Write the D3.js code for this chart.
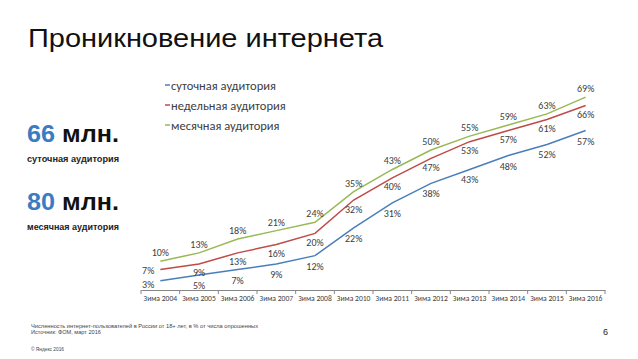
<!DOCTYPE html>
<html>
<head>
<meta charset="utf-8">
<script src="https://cdn.jsdelivr.net/npm/d3@7"></script>
<style>
  body { margin: 0; background: #fff; }
  svg { display: block; }
</style>
</head>
<body>
<svg id="chart"></svg>
<script>
const categories = ["Зима 2004", "Зима 2005", "Зима 2006", "Зима 2007", "Зима 2008", "Зима 2010",
                    "Зима 2011", "Зима 2012", "Зима 2013", "Зима 2014", "Зима 2015", "Зима 2016"];
const daily   = [3, 5, 7, 9, 12, 22, 31, 38, 43, 48, 52, 57];
const weekly  = [7, 9, 13, 16, 20, 32, 40, 47, 53, 57, 61, 66];
const monthly = [10, 13, 18, 21, 24, 35, 43, 50, 55, 59, 63, 69];
const seriesNames = ["суточная аудитория", "недельная аудитория", "месячная аудитория"];

const width = 638, height = 359;
const svg = d3.select("#chart").attr("width", width).attr("height", height);

const labelFont = "Carlito, Calibri, 'Noto Sans', sans-serif";
const arial = "'Liberation Sans', Arial, sans-serif";

// title
svg.append("text")
    .attr("x", 28).attr("y", 47)
    .attr("font-family", arial)
    .attr("font-size", 26)
    .attr("textLength", 355)
    .attr("lengthAdjust", "spacingAndGlyphs")
    .attr("fill", "#111")
    .text("Проникновение интернета");

// left block
function bigNumber(y, num, caption, capY) {
    const t = svg.append("text")
        .attr("x", 27).attr("y", y)
        .attr("font-family", arial)
        .attr("font-weight", "bold")
        .attr("font-size", 24)
        .attr("textLength", 92)
        .attr("lengthAdjust", "spacingAndGlyphs");
    t.append("tspan").attr("fill", "#3b7bc4").text(num);
    t.append("tspan").attr("fill", "#111").text(" млн.");
    svg.append("text")
        .attr("x", 27).attr("y", capY)
        .attr("font-family", arial)
        .attr("font-weight", "bold")
        .attr("font-size", 9)
        .attr("textLength", 92)
        .attr("lengthAdjust", "spacingAndGlyphs")
        .attr("fill", "#222")
        .text(caption);
}
bigNumber(142, "66", "суточная аудитория", 162);
bigNumber(210, "80", "месячная аудитория", 230);

// scales
const x = d3.scaleBand().domain(categories).range([141, 605]).padding(0);
const y = d3.scaleLinear().domain([0, 80]).range([289, 66.6]);
const cx = c => x(c) + x.bandwidth() / 2;

// x axis
const axisY = 290;
const axis = svg.append("g")
    .attr("transform", `translate(0,${axisY})`)
    .call(d3.axisBottom(x).tickSize(0).tickPadding(6));
axis.select(".domain").attr("stroke", "#868686");
axis.selectAll("text")
    .attr("font-family", labelFont)
    .attr("font-size", 7.6)
    .attr("fill", "#404040");
axis.selectAll(".tick-mark")
    .data(categories.map(c => x(c)).concat([x.range()[1]]))
    .enter().append("line")
    .attr("x1", d => d).attr("x2", d => d)
    .attr("y1", 0).attr("y2", 4)
    .attr("stroke", "#868686");

// lines
const series = [
    { name: seriesNames[0], values: daily,   color: "#4a7ebb", pos: "below", off: 14 },
    { name: seriesNames[1], values: weekly,  color: "#be4b48", pos: "below", off: 12.5 },
    { name: seriesNames[2], values: monthly, color: "#98b954", pos: "above", off: -5 }
];

const line = d3.line()
    .x((d, i) => cx(categories[i]))
    .y(d => y(d));

svg.append("g").selectAll("path")
    .data(series)
    .enter().append("path")
    .attr("d", s => line(s.values))
    .attr("fill", "none")
    .attr("stroke", s => s.color)
    .attr("stroke-width", 1.5);

// data labels
series.forEach(s => {
    const first = (i) => i === 0 && s.pos === "below";
    svg.append("g").selectAll("text")
        .data(s.values)
        .enter().append("text")
        .attr("x", (d, i) => first(i) ? cx(categories[i]) - 6 : cx(categories[i]))
        .attr("y", (d, i) => first(i) ? y(d) + (s === series[0] ? 7 : 4) : y(d) + s.off)
        .attr("text-anchor", (d, i) => first(i) ? "end" : "middle")
        .attr("font-family", labelFont)
        .attr("font-size", 10)
        .attr("fill", "#404040")
        .text(d => d + "%");
});

// legend
const legend = svg.append("g").selectAll("g")
    .data(series)
    .enter().append("g")
    .attr("transform", (d, i) => `translate(165,${85 + i * 20})`);
legend.append("line")
    .attr("x1", 0).attr("x2", 5)
    .attr("stroke", d => d.color).attr("stroke-width", 1.5);
legend.append("text")
    .attr("x", 6).attr("y", 4.5)
    .attr("font-family", labelFont)
    .attr("font-size", 12.5)
    .attr("fill", "#404040")
    .text(d => d.name);

// footer
const foot = svg.append("g")
    .attr("font-family", arial)
    .attr("fill", "#444");
foot.append("text").attr("x", 31).attr("y", 328).attr("font-size", 5.6)
    .attr("textLength", 227).attr("lengthAdjust", "spacingAndGlyphs")
    .text("Численность интернет-пользователей в России от 18+ лет, в % от числа опрошенных");
foot.append("text").attr("x", 31).attr("y", 334).attr("font-size", 5.6)
    .text("Источник: ФОМ, март 2016");
foot.append("text").attr("x", 31).attr("y", 351).attr("font-size", 4.8)
    .text("© Яндекс 2016");
foot.append("text").attr("x", 608).attr("y", 335).attr("font-size", 9)
    .attr("text-anchor", "end").attr("fill", "#222")
    .text("6");
</script>
</body>
</html>
